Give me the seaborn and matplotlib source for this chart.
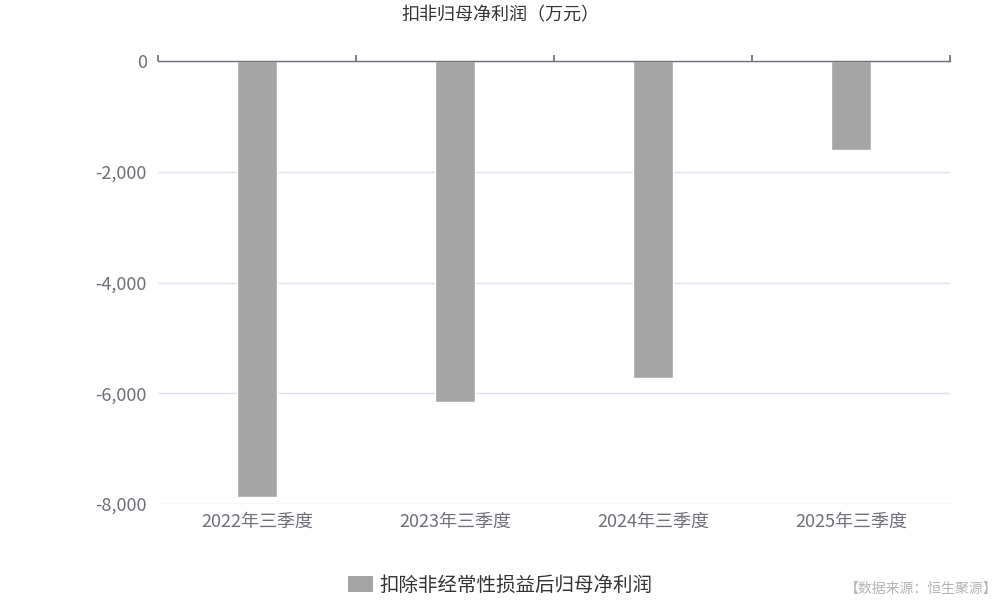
import matplotlib
matplotlib.use("Agg")
import matplotlib.pyplot as plt
from matplotlib.patches import Patch
from matplotlib.ticker import FuncFormatter
import pandas as pd
import seaborn as sns

# 数据
periods = ["2022年三季度", "2023年三季度", "2024年三季度", "2025年三季度"]
values = [-7870, -6150, -5730, -1610]
series_name = "扣除非经常性损益后归母净利润"
title = "扣非归母净利润（万元）"
source = "【数据来源：恒生聚源】"

sns.set_theme(style="white")
plt.rcParams["font.family"] = ["Noto Sans CJK SC", "DejaVu Sans"]

df = pd.DataFrame({"period": periods, "value": values})

fig = plt.figure(figsize=(10, 6), dpi=100)
ax = fig.add_axes([0.158, 0.16, 0.792, 0.738])

sns.barplot(data=df, x="period", y="value", color="#a5a5a5", width=0.2,
            saturation=1, ax=ax)

ax.set_ylim(-8000, 0)
ax.set_xlim(-0.5, len(periods) - 0.5)
ax.set_yticks([0, -2000, -4000, -6000, -8000])
ax.yaxis.set_major_formatter(FuncFormatter(lambda v, p: f"{int(v):,}"))
ax.grid(axis="y", color="#e0e0ee", linewidth=1)
ax.set_axisbelow(True)
ax.set_xlabel("")
ax.set_ylabel("")

for s in ["left", "right", "bottom"]:
    ax.spines[s].set_visible(False)
ax.spines["top"].set_color("#6e7079")
ax.spines["top"].set_linewidth(1)

ax.tick_params(axis="y", length=0, labelsize=13, labelcolor="#6e7079", pad=8)
ax.tick_params(axis="x", length=0, labelsize=13, labelcolor="#6e7079", pad=6)

# 顶部分类边界刻度
sec = ax.secondary_xaxis("top")
sec.set_xticks([i - 0.5 for i in range(len(periods) + 1)])
sec.set_xticklabels([])
sec.tick_params(length=4, color="#6e7079", direction="out")
sec.spines["top"].set_visible(False)

fig.text(0.5, 0.975, title, ha="center", va="center", fontsize=13,
         color="#333333")

handle = Patch(facecolor="#a5a5a5", edgecolor="none")
fig.legend([handle], [series_name], loc="center", bbox_to_anchor=(0.5, 0.025),
           frameon=False, fontsize=14, handlelength=1.3, handleheight=0.9,
           handletextpad=0.3, labelcolor="#333333")

fig.text(0.997, 0.018, source, ha="right", va="center", fontsize=10,
         color="#b4b4b4")

fig.savefig("out.png", dpi=100)
